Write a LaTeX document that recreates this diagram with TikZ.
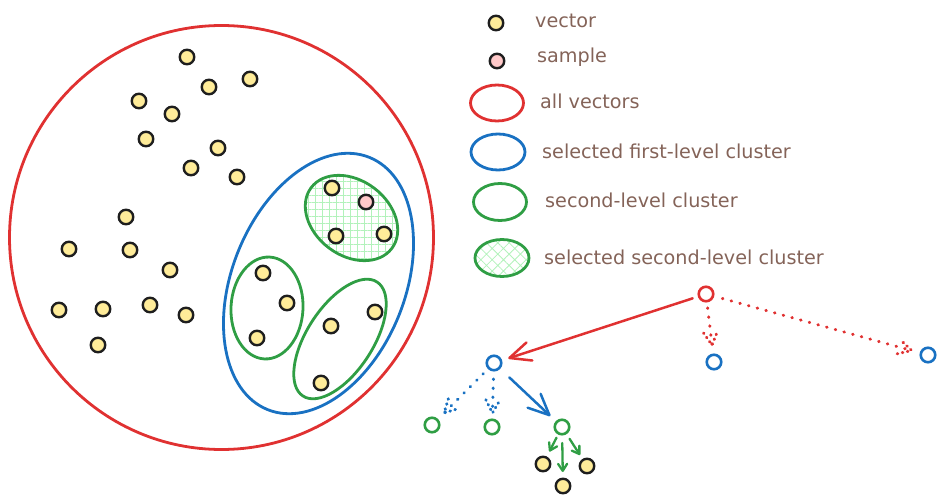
\documentclass[tikz,border=0pt]{standalone}
\usepackage{fontspec}
\setmainfont{DejaVu Sans}
\usetikzlibrary{arrows.meta,shapes.geometric,patterns.meta,calc,decorations.markings}
\definecolor{cred}{HTML}{E03131}
\definecolor{cblue}{HTML}{1971C2}
\definecolor{cgreen}{HTML}{2F9E44}
\definecolor{ink}{HTML}{1E1E1E}
\definecolor{vyellow}{HTML}{FFEC99}
\definecolor{spink}{HTML}{FFC9C9}
\definecolor{hatchc}{HTML}{B2F2BB}
\definecolor{brownc}{HTML}{846358}
\begin{document}
\begin{tikzpicture}[x=1pt,y=-1pt,
  vec/.style={circle, draw=ink, fill=vyellow, line width=2.4pt, minimum size=14.5pt, inner sep=0pt},
  samp/.style={vec, fill=spink},
  tnode/.style={circle, draw=#1, line width=2.6pt, minimum size=14.5pt, inner sep=0pt},
  grp/.style={ellipse, draw=#1, line width=2.8pt, inner sep=0pt},
  selgrp/.style={grp=cgreen, pattern={Hatch[angle=0,distance=7pt,line width=0.8pt]}, pattern color=hatchc},
  lbl/.style={anchor=base west, text=brownc, font=\fontsize{19.2}{23}\selectfont, inner sep=0pt},
  bigarr/.style={draw=#1, line width=2.5pt, line cap=round, -{Straight Barb[length=21pt,width=19pt,line cap=round,line join=round]}},
  smallarr/.style={draw=#1, line width=2.3pt, line cap=round, -{Straight Barb[length=7pt,width=9pt,line cap=round,line join=round]}},
  dotarr/.style={draw=#1, line width=3pt, line cap=round, dash pattern=on 0.6pt off 8.4pt,
    postaction={decorate},
    decoration={markings, mark=at position 1 with {\draw[#1, line width=3pt, line cap=round, dash pattern=on 0.6pt off 4.6pt] (-13,7) -- (0,0) -- (-13,-7);}}},
]
\useasboundingbox (0,0) rectangle (946,503);

% big groups
\node[grp=cred, circle, minimum size=424pt] (all) at (221.5,237.5) {};
\node[grp=cblue, minimum width=272pt, minimum height=173pt, rotate=68] (first) at (318.5,283.5) {};
\node[selgrp, minimum width=101pt, minimum height=75pt, rotate=-37] (gsel) at (351.5,218) {};
\node[grp=cgreen, minimum width=102pt, minimum height=72pt, rotate=87] (gleft) at (267,308) {};
\node[grp=cgreen, minimum width=136pt, minimum height=66pt, rotate=57] (gbr) at (340,339) {};

% vectors outside
\foreach \p [count=\i] in {(187,57),(209,87),(250,79),(139,101),(172,114),(146,139),(218,148),(191,168),(237,177),(126,217),(69,249),(130,250),(170,270),(59,310),(103,309),(150,305),(186,315),(98,345)}
  \node[vec] (v\i) at \p {};
% selected cluster
\node[vec] (s1) at (332,188) {};
\node[samp] (sp) at (366,202) {};
\node[vec] (s2) at (336,236) {};
\node[vec] (s3) at (384,234) {};
% left cluster
\node[vec] (l1) at (263,273) {};
\node[vec] (l2) at (287,303) {};
\node[vec] (l3) at (257,338) {};
% bottom-right cluster
\node[vec] (r1) at (375,312) {};
\node[vec] (r2) at (331,326) {};
\node[vec] (r3) at (321,383) {};

% legend
\node[vec] (lgv) at (496,23) {};
\node[lbl] (lgvt) at (535,28) {vector};
\node[samp] (lgs) at (497,61) {};
\node[lbl] (lgst) at (537,63) {sample};
\node[grp=cred, minimum width=53pt, minimum height=36pt] (lga) at (497,103) {};
\node[lbl] (lgat) at (540,108) {all vectors};
\node[grp=cblue, minimum width=54pt, minimum height=36pt] (lgb) at (498,152) {};
\node[lbl] (lgbt) at (542,158) {selected first-level cluster};
\node[grp=cgreen, minimum width=53pt, minimum height=37pt] (lgg) at (500,202) {};
\node[lbl] (lggt) at (545,207) {second-level cluster};
\node[grp=cgreen, pattern={Hatch[angle=45,distance=8pt,line width=0.8pt]}, pattern color=hatchc, minimum width=54pt, minimum height=37pt] (lgh) at (502,258) {};
\node[lbl] (lght) at (544,264) {selected second-level cluster};

% tree
\node[tnode=cred] (root) at (706,294) {};
\node[tnode=cblue] (b1) at (494,363) {};
\node[tnode=cblue] (b2) at (714,362) {};
\node[tnode=cblue] (b3) at (928,355) {};
\node[tnode=cgreen] (g1) at (432,425) {};
\node[tnode=cgreen] (g2) at (492,427) {};
\node[tnode=cgreen] (g3) at (562,427) {};
\node[vec] (d1) at (543,464) {};
\node[vec] (d2) at (587,466) {};
\node[vec] (d3) at (563,486) {};

\draw[bigarr=cred] ($(root)!14pt!(b1)$) -- ($(b1)!15pt!(root)$);
\draw[dotarr=cred] ($(root)!14pt!(b2)$) -- ($(b2)!17pt!(root)$);
\draw[dotarr=cred] ($(root)!17pt!(b3)$) -- ($(b3)!17pt!(root)$);
\draw[dotarr=cblue] ($(b1)!15pt!(g1)$) -- ($(g1)!17pt!(b1)$);
\draw[dotarr=cblue] ($(b1)!16pt!(g2)$) -- ($(g2)!14pt!(b1)$);
\draw[bigarr=cblue] ($(b1)!21pt!(g3)$) -- ($(g3)!16pt!(b1)$);
\draw[smallarr=cgreen] ($(g3)!12pt!(d1)$) -- ($(d1)!14pt!(g3)$);
\draw[smallarr=cgreen] ($(g3)!16pt!(d3)$) -- ($(d3)!14pt!(g3)$);
\draw[smallarr=cgreen] ($(g3)!14pt!(d2)$) -- ($(d2)!13pt!(g3)$);
\end{tikzpicture}
\end{document}
